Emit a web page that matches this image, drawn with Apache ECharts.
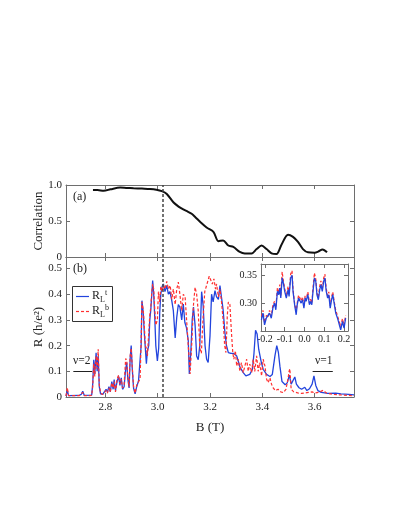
<!DOCTYPE html>
<html>
<head>
<meta charset="utf-8">
<script src="https://cdn.jsdelivr.net/npm/echarts@6/dist/echarts.min.js"></script>
<style>
html, body { margin: 0; padding: 0; background: #fff; }
#chart { width: 408px; height: 528px; }
</style>
</head>
<body>
<div id="chart"></div>
<script>
// panel (a): correlation vs B
var corrB = [2.753, 2.77, 2.794, 2.82, 2.857, 2.88, 2.908, 2.94, 2.971, 2.995, 3.016, 3.035, 3.06, 3.08, 3.098, 3.115, 3.13, 3.145, 3.162, 3.187, 3.213, 3.232, 3.25, 3.27, 3.289, 3.314, 3.333, 3.359, 3.378, 3.397, 3.416, 3.435, 3.454, 3.473, 3.498, 3.517, 3.536, 3.555, 3.574, 3.6, 3.613, 3.63, 3.647]
var corrV = [0.93, 0.93, 0.92, 0.94, 0.965, 0.96, 0.955, 0.95, 0.945, 0.935, 0.915, 0.875, 0.76, 0.7, 0.66, 0.63, 0.6, 0.55, 0.49, 0.41, 0.35, 0.22, 0.23, 0.16, 0.14, 0.07, 0.05, 0.05, 0.11, 0.16, 0.11, 0.05, 0.04, 0.17, 0.31, 0.28, 0.21, 0.11, 0.065, 0.06, 0.075, 0.105, 0.065]

// panel (b): R_L^t (blue)
var topB = [2.650, 2.655, 2.660, 2.700, 2.708, 2.714, 2.720, 2.748, 2.752, 2.756, 2.760, 2.765, 2.769, 2.773, 2.777, 2.782, 2.790, 2.797, 2.803, 2.808, 2.814, 2.819, 2.825, 2.830, 2.834, 2.839, 2.845, 2.851, 2.856, 2.861, 2.866, 2.872, 2.878, 2.882, 2.886, 2.891, 2.895, 2.899, 2.903, 2.908, 2.914, 2.920, 2.927, 2.933, 2.937, 2.940, 2.945, 2.949, 2.953, 2.957, 2.961, 2.966, 2.970, 2.974, 2.977, 2.981, 2.985, 2.989, 2.993, 2.999, 3.004, 3.008, 3.012, 3.017, 3.022, 3.028, 3.035, 3.041, 3.047, 3.054, 3.060, 3.067, 3.073, 3.079, 3.085, 3.092, 3.098, 3.104, 3.110, 3.117, 3.121, 3.127, 3.132, 3.137, 3.143, 3.149, 3.155, 3.161, 3.168, 3.174, 3.181, 3.187, 3.193, 3.200, 3.206, 3.212, 3.219, 3.225, 3.232, 3.238, 3.244, 3.250, 3.257, 3.263, 3.270, 3.280, 3.290, 3.302, 3.315, 3.327, 3.337, 3.352, 3.362, 3.368, 3.374, 3.380, 3.386, 3.395, 3.403, 3.416, 3.429, 3.438, 3.448, 3.455, 3.461, 3.467, 3.475, 3.487, 3.495, 3.503, 3.510, 3.517, 3.524, 3.530, 3.540, 3.550, 3.562, 3.570, 3.580, 3.590, 3.597, 3.604, 3.612, 3.625, 3.650, 3.680, 3.700, 3.730, 3.750]
var topV = [0.004, 0.025, 0.005, 0.006, 0.01, 0.022, 0.006, 0.007, 0.05, 0.145, 0.09, 0.172, 0.10, 0.16, 0.04, 0.012, 0.01, 0.012, 0.03, 0.02, 0.04, 0.02, 0.06, 0.03, 0.068, 0.025, 0.06, 0.08, 0.045, 0.075, 0.03, 0.04, 0.11, 0.134, 0.07, 0.035, 0.15, 0.2, 0.11, 0.035, 0.012, 0.04, 0.062, 0.069, 0.2, 0.375, 0.33, 0.25, 0.19, 0.13, 0.18, 0.2, 0.3, 0.34, 0.39, 0.453, 0.40, 0.31, 0.2, 0.14, 0.19, 0.33, 0.4, 0.43, 0.44, 0.41, 0.434, 0.40, 0.41, 0.375, 0.336, 0.23, 0.31, 0.36, 0.35, 0.30, 0.362, 0.29, 0.27, 0.22, 0.09, 0.18, 0.30, 0.35, 0.28, 0.16, 0.145, 0.2, 0.41, 0.355, 0.2, 0.147, 0.134, 0.238, 0.40, 0.37, 0.414, 0.39, 0.38, 0.434, 0.44, 0.34, 0.25, 0.2, 0.173, 0.17, 0.17, 0.16, 0.115, 0.095, 0.082, 0.088, 0.108, 0.17, 0.26, 0.245, 0.186, 0.14, 0.108, 0.088, 0.08, 0.088, 0.16, 0.2, 0.175, 0.12, 0.06, 0.048, 0.055, 0.085, 0.05, 0.055, 0.078, 0.05, 0.036, 0.03, 0.038, 0.025, 0.032, 0.05, 0.082, 0.045, 0.025, 0.018, 0.014, 0.015, 0.012, 0.01, 0.008]

// panel (b): R_L^b (red dashed)
var botB = [2.650, 2.655, 2.660, 2.700, 2.714, 2.720, 2.748, 2.752, 2.756, 2.760, 2.765, 2.769, 2.773, 2.777, 2.782, 2.790, 2.797, 2.803, 2.808, 2.814, 2.819, 2.825, 2.830, 2.834, 2.839, 2.845, 2.851, 2.856, 2.861, 2.866, 2.872, 2.878, 2.882, 2.886, 2.891, 2.895, 2.899, 2.903, 2.908, 2.914, 2.920, 2.927, 2.933, 2.937, 2.940, 2.945, 2.949, 2.953, 2.957, 2.961, 2.966, 2.970, 2.974, 2.977, 2.981, 2.985, 2.989, 2.993, 2.999, 3.003, 3.008, 3.012, 3.017, 3.022, 3.028, 3.035, 3.041, 3.048, 3.054, 3.060, 3.067, 3.073, 3.079, 3.085, 3.092, 3.098, 3.105, 3.110, 3.117, 3.124, 3.130, 3.137, 3.143, 3.149, 3.155, 3.161, 3.167, 3.173, 3.180, 3.187, 3.197, 3.203, 3.209, 3.215, 3.221, 3.225, 3.232, 3.238, 3.244, 3.251, 3.256, 3.261, 3.266, 3.270, 3.276, 3.282, 3.287, 3.291, 3.297, 3.302, 3.308, 3.314, 3.320, 3.327, 3.333, 3.340, 3.346, 3.352, 3.359, 3.365, 3.371, 3.378, 3.384, 3.390, 3.397, 3.403, 3.410, 3.416, 3.422, 3.429, 3.435, 3.441, 3.450, 3.460, 3.470, 3.480, 3.490, 3.498, 3.502, 3.505, 3.510, 3.520, 3.535, 3.550, 3.570, 3.590, 3.600, 3.615, 3.632, 3.645, 3.670, 3.700, 3.750]
var botV = [0.004, 0.036, 0.005, 0.005, 0.018, 0.005, 0.006, 0.04, 0.13, 0.08, 0.16, 0.11, 0.186, 0.05, 0.015, 0.01, 0.015, 0.025, 0.015, 0.035, 0.02, 0.055, 0.035, 0.06, 0.02, 0.07, 0.085, 0.05, 0.07, 0.035, 0.05, 0.15, 0.14, 0.08, 0.04, 0.16, 0.19, 0.12, 0.04, 0.015, 0.045, 0.06, 0.07, 0.22, 0.37, 0.34, 0.28, 0.2, 0.19, 0.16, 0.25, 0.32, 0.35, 0.4, 0.44, 0.42, 0.34, 0.28, 0.3, 0.41, 0.37, 0.43, 0.41, 0.434, 0.42, 0.45, 0.42, 0.434, 0.38, 0.42, 0.36, 0.42, 0.447, 0.40, 0.336, 0.40, 0.39, 0.31, 0.2, 0.09, 0.2, 0.36, 0.427, 0.40, 0.336, 0.19, 0.17, 0.3, 0.41, 0.41, 0.47, 0.465, 0.44, 0.46, 0.42, 0.44, 0.39, 0.42, 0.37, 0.29, 0.2, 0.173, 0.316, 0.37, 0.36, 0.25, 0.173, 0.147, 0.18, 0.12, 0.147, 0.10, 0.134, 0.095, 0.12, 0.147, 0.1, 0.128, 0.095, 0.147, 0.1, 0.16, 0.1, 0.134, 0.082, 0.147, 0.12, 0.07, 0.056, 0.075, 0.05, 0.036, 0.025, 0.03, 0.02, 0.017, 0.03, 0.07, 0.1, 0.11, 0.03, 0.02, 0.016, 0.014, 0.017, 0.02, 0.016, 0.018, 0.026, 0.015, 0.01, 0.008, 0.005]

// inset
var insX = [-0.218, -0.21, -0.202, -0.193, -0.185, -0.177, -0.168, -0.16, -0.152, -0.145, -0.137, -0.13, -0.125, -0.12, -0.113, -0.107, -0.1, -0.092, -0.083, -0.078, -0.07, -0.063, -0.058, -0.05, -0.042, -0.037, -0.03, -0.023, -0.017, -0.01, -0.003, 0.003, 0.008, 0.017, 0.025, 0.03, 0.037, 0.043, 0.05, 0.057, 0.063, 0.07, 0.077, 0.083, 0.09, 0.097, 0.103, 0.11, 0.117, 0.123, 0.13, 0.137, 0.143, 0.15, 0.158, 0.167, 0.175, 0.183, 0.192, 0.2, 0.208]
var insTop = [0.27, 0.282, 0.261, 0.273, 0.27, 0.282, 0.273, 0.291, 0.3, 0.288, 0.321, 0.315, 0.327, 0.309, 0.345, 0.336, 0.321, 0.309, 0.324, 0.312, 0.345, 0.35, 0.321, 0.297, 0.279, 0.297, 0.309, 0.306, 0.3, 0.306, 0.291, 0.309, 0.303, 0.315, 0.297, 0.303, 0.297, 0.321, 0.345, 0.339, 0.315, 0.306, 0.324, 0.333, 0.321, 0.339, 0.345, 0.321, 0.309, 0.315, 0.291, 0.306, 0.315, 0.3, 0.282, 0.273, 0.27, 0.252, 0.267, 0.255, 0.273]
var insBot = [0.276, 0.287, 0.265, 0.278, 0.274, 0.287, 0.277, 0.296, 0.303, 0.292, 0.327, 0.318, 0.333, 0.312, 0.356, 0.34, 0.326, 0.312, 0.33, 0.316, 0.352, 0.358, 0.325, 0.3, 0.284, 0.3, 0.314, 0.309, 0.304, 0.311, 0.295, 0.313, 0.306, 0.32, 0.3, 0.307, 0.3, 0.327, 0.354, 0.343, 0.318, 0.31, 0.33, 0.34, 0.325, 0.345, 0.352, 0.326, 0.313, 0.32, 0.295, 0.311, 0.32, 0.303, 0.287, 0.277, 0.276, 0.258, 0.272, 0.26, 0.278]

var xTicks = [2.8, 3.0, 3.2, 3.4, 3.6]
var corrTicks = [0, 0.5, 1.0]
var rTicks = [0, 0.1, 0.2, 0.3, 0.4, 0.5]
var insXTicks = [-0.2, -0.1, 0, 0.1, 0.2]
var insYTicks = [0.30, 0.35]

var font = '"Liberation Serif", "DejaVu Serif", serif'
var frame = '#6e6e6e'
var blue = '#2244dd'
var red = '#ff3030'
function zip(a, b) { return a.map(function (v, i) { return [v, b[i]] }) }

function axis(grid, pos, min, max, ticks, labels, fmt) {
  return {
    type: 'value', gridIndex: grid, position: pos, min: min, max: max,
    axisLine: {show: true, onZero: false, lineStyle: {color: frame, width: 1}},
    axisTick: {show: true, inside: true, length: 4, customValues: ticks, lineStyle: {color: frame}},
    axisLabel: {show: labels, customValues: ticks, margin: 4, fontFamily: font, fontSize: 11, color: '#222', formatter: fmt},
    splitLine: {show: false}
  }
}
var f1 = function (v) { return v === 0 ? '0' : v.toFixed(1) }
var fIn = function (v) { return v.toFixed(1) }
var f2 = function (v) { return v.toFixed(2) }

var chart = echarts.init(document.getElementById('chart'))
var xa = [
  axis(0, 'bottom', 2.65, 3.75, xTicks, false),
  axis(0, 'top', 2.65, 3.75, xTicks, false),
  axis(1, 'bottom', 2.65, 3.75, xTicks, true, f1),
  axis(1, 'top', 2.65, 3.75, xTicks, false),
  axis(2, 'bottom', -0.22, 0.22, insXTicks, true, fIn),
  axis(2, 'top', -0.22, 0.22, insXTicks, false)
]
xa[2].axisLabel.margin = 5
xa[2].name = 'B (T)'
xa[2].nameLocation = 'middle'
xa[2].nameGap = 24
xa[2].nameMoveOverlap = false
xa[2].nameTextStyle = {fontFamily: font, fontSize: 13, color: '#222'}
xa[4].axisLabel.margin = 3
xa[4].axisLabel.fontSize = 10

var ya = [
  axis(0, 'left', 0, 1, corrTicks, true, f1),
  axis(0, 'right', 0, 1, corrTicks, false),
  axis(1, 'left', 0, 0.545, rTicks, true, f1),
  axis(1, 'right', 0, 0.545, rTicks, false),
  axis(2, 'left', 0.25, 0.37, insYTicks, true, f2),
  axis(2, 'right', 0.25, 0.37, insYTicks, false)
]
ya[0].name = 'Correlation'
ya[2].name = 'R (h/e²)'
ya[4].axisLabel.fontSize = 10
;[0, 2].forEach(function (i) {
  ya[i].nameLocation = 'middle'
  ya[i].nameGap = 21
  ya[i].nameMoveOverlap = false
  ya[i].nameTextStyle = {fontFamily: font, fontSize: 13, color: '#222'}
})

var vline = {
  silent: true, symbol: 'none', label: {show: false},
  lineStyle: {color: '#444', type: [3, 2], width: 1.5},
  data: [{xAxis: 3.02}]
}
var nuLines = {
  silent: true, symbol: 'none', label: {show: false},
  lineStyle: {color: '#222', type: 'solid', width: 1},
  data: [
    [{coord: [2.678, 0.10]}, {coord: [2.75, 0.10]}],
    [{coord: [3.592, 0.10]}, {coord: [3.669, 0.10]}]
  ]
}

var legendRich = {
  r: {fontFamily: font, fontSize: 12, lineHeight: 15, fill: '#222'},
  s: {fontFamily: font, fontSize: 8, lineHeight: 9, verticalAlign: 'bottom', fill: '#222'},
  p: {fontFamily: font, fontSize: 8, lineHeight: 9, verticalAlign: 'top', fill: '#222'}
}
var dash = function (x, y) {
  return {type: 'line', z: 11, shape: {x1: x, y1: y, x2: x + 3, y2: y}, style: {stroke: red, lineWidth: 1.2}}
}

chart.setOption({
  backgroundColor: '#fff',
  animation: false,
  grid: [
    {left: 66, top: 185, width: 288, height: 72},
    {left: 66, top: 257, width: 288, height: 140},
    {left: 261, top: 264, width: 87, height: 67}
  ],
  xAxis: xa,
  yAxis: ya,
  graphic: [
    {type: 'text', left: 73, top: 191, style: {text: '(a)', font: '12px ' + font, fill: '#222'}},
    {type: 'text', left: 73, top: 263, style: {text: '(b)', font: '12px ' + font, fill: '#222'}},
    {type: 'text', left: 73, top: 355, style: {text: 'ν=2', font: '11.5px ' + font, fill: '#222'}},
    {type: 'text', left: 315, top: 355, style: {text: 'ν=1', font: '11.5px ' + font, fill: '#222'}},
    // legend box
    {type: 'rect', z: 10, shape: {x: 72.5, y: 286.5, width: 40, height: 35}, style: {fill: '#fff', stroke: '#333', lineWidth: 1}},
    {type: 'line', z: 11, shape: {x1: 76, y1: 296.5, x2: 89, y2: 296.5}, style: {stroke: blue, lineWidth: 1.2}},
    dash(76, 311.5), dash(81, 311.5), dash(86, 311.5),
    {type: 'text', z: 11, x: 92, y: 296, style: {text: '{r|R}{s|L}{p|t}', rich: legendRich, verticalAlign: 'middle'}},
    {type: 'text', z: 11, x: 92, y: 311, style: {text: '{r|R}{s|L}{p|b}', rich: legendRich, verticalAlign: 'middle'}}
  ],
  series: [
    {
      type: 'line', xAxisIndex: 0, yAxisIndex: 0, data: zip(corrB, corrV),
      symbol: 'none', smooth: 0.3, lineStyle: {color: '#111', width: 2}, markLine: vline
    },
    {
      name: 'RLt', type: 'line', xAxisIndex: 2, yAxisIndex: 2, data: zip(topB, topV),
      symbol: 'none', color: blue, lineStyle: {color: blue, width: 1.3},
      markLine: vline
    },
    {
      name: 'RLb', type: 'line', xAxisIndex: 2, yAxisIndex: 2, data: zip(botB, botV),
      symbol: 'none', color: red, lineStyle: {color: red, width: 1.2, type: [3, 2]},
      markLine: nuLines
    },
    {
      type: 'line', xAxisIndex: 4, yAxisIndex: 4, data: zip(insX, insBot),
      symbol: 'none', lineStyle: {color: red, width: 1.2, type: [3, 2]}
    },
    {
      type: 'line', xAxisIndex: 4, yAxisIndex: 4, data: zip(insX, insTop),
      symbol: 'none', lineStyle: {color: blue, width: 1.3}
    }
  ]
})
</script>
</body>
</html>
